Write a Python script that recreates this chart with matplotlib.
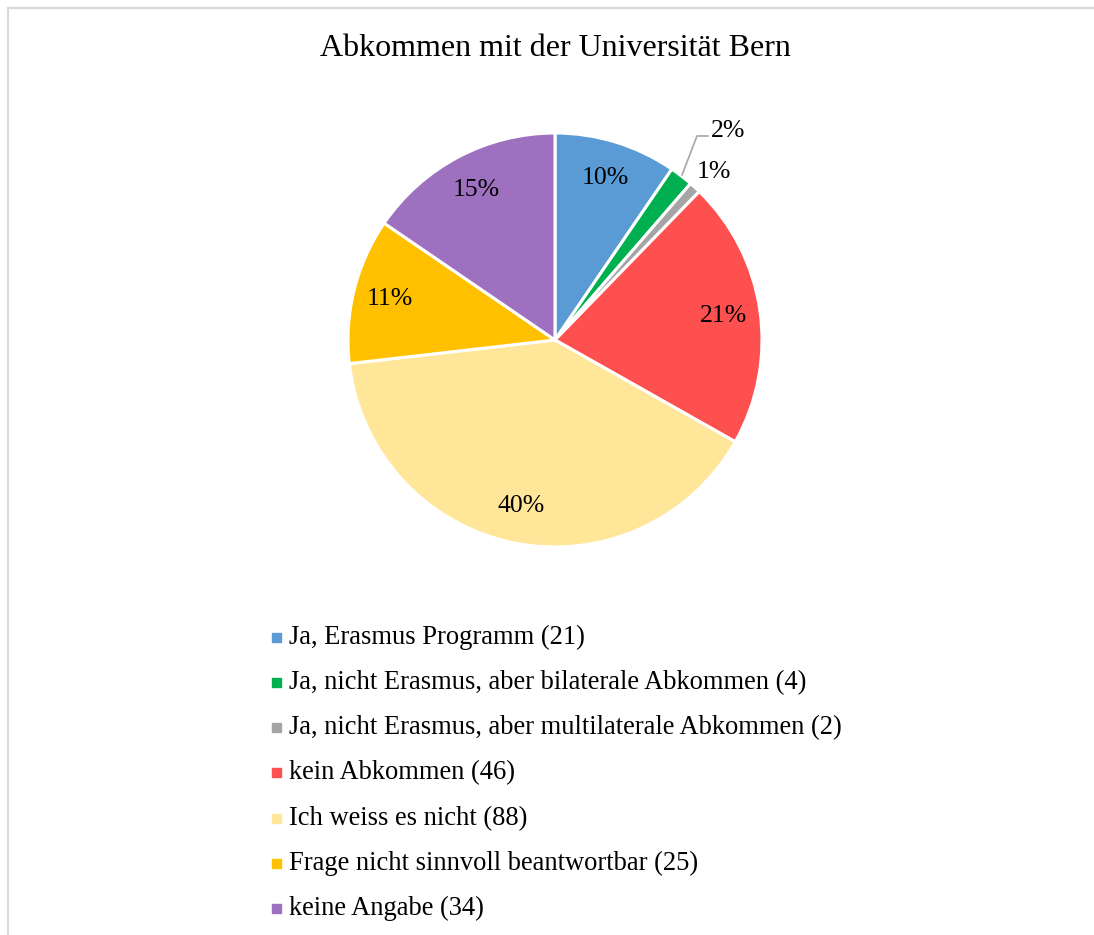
import matplotlib
matplotlib.use("Agg")
import matplotlib.pyplot as plt
from matplotlib.patches import Rectangle
from matplotlib.lines import Line2D

categories = ["Ja, Erasmus Programm",
              "Ja, nicht Erasmus, aber bilaterale Abkommen",
              "Ja, nicht Erasmus, aber multilaterale Abkommen",
              "kein Abkommen",
              "Ich weiss es nicht",
              "Frage nicht sinnvoll beantwortbar",
              "keine Angabe"]
counts = [21, 4, 2, 46, 88, 25, 34]
colors = ["#5B9BD5", "#00B050", "#A5A5A5", "#FF5050", "#FFE699", "#FFC000", "#9E70C0"]
title = "Abkommen mit der Universität Bern"

W, H = 1094, 935
fig = plt.figure(figsize=(W / 100, H / 100), dpi=100)
plt.rcParams['font.family'] = ['Liberation Serif', 'DejaVu Serif']

# border (light gray frame top/left)
fig.add_artist(Line2D([8 / W, 8 / W], [0, 1 - 8 / H], transform=fig.transFigure, color="#d9d9d9", lw=1.5))
fig.add_artist(Line2D([8 / W, 1], [1 - 8 / H, 1 - 8 / H], transform=fig.transFigure, color="#d9d9d9", lw=1.5))

cx, cy, R = 555, 340, 207
ax = fig.add_axes([(cx - R) / W, (H - cy - R) / H, 2 * R / W, 2 * R / H])
wedges, texts, autotexts = ax.pie(
    counts, colors=colors, startangle=90, counterclock=False,
    autopct=lambda p: f"{p:.0f}%", pctdistance=0.82,
    wedgeprops=dict(edgecolor="white", linewidth=2.2),
    textprops=dict(fontsize=18.5, color="black"))
ax.set_xlim(-1, 1)
ax.set_ylim(-1, 1)
ax.set_aspect("auto")

def d(px, py):
    return ((px - cx) / R, (cy - py) / R)

# small slices: outside labels
autotexts[1].set_position(d(711, 131))
autotexts[1].set_ha("left")
ax.plot(*zip(d(682, 175), d(697, 136), d(708, 136)), color="#a6a6a6", lw=1.2, clip_on=False)
autotexts[2].set_position(d(714, 172))

fig.text(555 / W, 1 - 48 / H, title, ha="center", va="center", fontsize=23)

# legend
for i, (lab, n, col) in enumerate(zip(categories, counts, colors)):
    py = 637 + i * 45.3
    fig.add_artist(Rectangle(((272) / W, (H - py - 4.5) / H), 9 / W, 9 / H,
                             transform=fig.transFigure, color=col))
    fig.text(289 / W, 1 - py / H, f"{lab} ({n})", ha="left", va="center", fontsize=19.1)

fig.savefig("out.png", dpi=100)
